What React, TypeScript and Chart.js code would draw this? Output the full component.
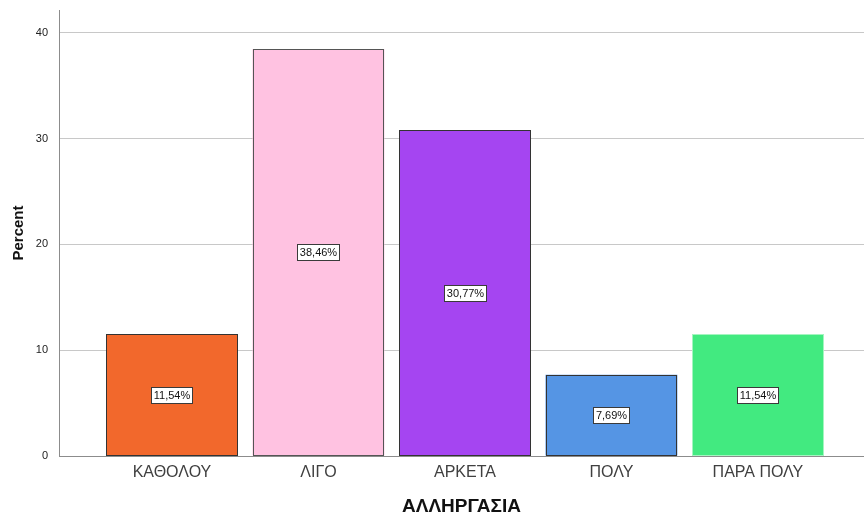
import React, { useEffect, useRef } from "react";
import { Chart, registerables } from "chart.js";

Chart.register(...registerables);

const categories = ["ΚΑΘΟΛΟΥ", "ΛΙΓΟ", "ΑΡΚΕΤΑ", "ΠΟΛΥ", "ΠΑΡΑ ΠΟΛΥ"];
const percents = [11.54, 38.46, 30.77, 7.69, 11.54];
const barColors = ["#F2682C", "#FFC2E1", "#A545F1", "#5595E4", "#42EA80"];
const barBorders = ["#333333", "#555555", "#333333", "#333333", "#a4f5c0"];
const yTicks = [0, 10, 20, 30, 40];

const FONT = "Arial, 'Liberation Sans', sans-serif";

const fmt = (v: number) => v.toFixed(2).replace(".", ",") + "%";

// Crisp pixel-aligned outlines around each bar
const barOutlines = {
  id: "barOutlines",
  afterDatasetsDraw(chart: any) {
    const ctx = chart.ctx;
    const meta = chart.getDatasetMeta(0);
    ctx.save();
    ctx.lineWidth = 1;
    meta.data.forEach((bar: any, i: number) => {
      const l = Math.round(bar.x - bar.width / 2);
      const r = Math.round(bar.x + bar.width / 2);
      const t = Math.round(bar.y);
      const b = Math.round(bar.base);
      ctx.strokeStyle = barBorders[i];
      ctx.strokeRect(l + 0.5, t + 0.5, r - l - 1, b - t - 1);
    });
    ctx.restore();
  },
};

// Boxed percentage label in the middle of each bar
const valueBoxes = {
  id: "valueBoxes",
  afterDatasetsDraw(chart: any) {
    const ctx = chart.ctx;
    const meta = chart.getDatasetMeta(0);
    ctx.save();
    ctx.font = `11px ${FONT}`;
    ctx.textAlign = "center";
    ctx.textBaseline = "middle";
    meta.data.forEach((bar: any, i: number) => {
      const text = fmt(percents[i]);
      const cx = bar.x;
      const cy = (bar.y + bar.base) / 2;
      const w = Math.round(ctx.measureText(text).width + 5);
      const h = 16;
      const x0 = Math.round(cx - w / 2) + 0.5;
      const y0 = Math.round(cy - h / 2) + 0.5;
      ctx.fillStyle = "#ffffff";
      ctx.fillRect(x0, y0, w, h);
      ctx.strokeStyle = "#3a3a3a";
      ctx.lineWidth = 1;
      ctx.strokeRect(x0, y0, w, h);
      ctx.fillStyle = "#111111";
      ctx.fillText(text, x0 + w / 2, y0 + h / 2 + 0.5);
    });
    ctx.restore();
  },
};

export default function App() {
  const ref = useRef<HTMLCanvasElement>(null);

  useEffect(() => {
    document.body.style.margin = "0";
    const canvas = ref.current!;
    const chart = new Chart(canvas, {
      type: "bar",
      data: {
        datasets: [
          {
            data: percents.map((v, i) => ({ x: i, y: v })),
            backgroundColor: barColors,
            borderWidth: 0,
            categoryPercentage: 1,
            barPercentage: 0.9,
          },
        ],
      },
      options: {
        animation: false,
        responsive: false,
        maintainAspectRatio: false,
        layout: { padding: { top: 10, left: 0, right: 0, bottom: 0 } },
        plugins: {
          legend: { display: false },
          tooltip: { enabled: false },
        },
        scales: {
          x: {
            type: "linear",
            offset: false,
            min: -0.771,
            max: 4.724,
            afterBuildTicks: (scale: any) => {
              scale.ticks = categories.map((_, i) => ({ value: i }));
            },
            afterFit: (scale: any) => {
              scale.height = 57;
              scale.paddingLeft = 0;
              scale.paddingRight = 0;
            },
            grid: { display: true, color: "rgba(0,0,0,0)", drawTicks: false },
            border: { display: true, color: "#8c8c8c", width: 1 },
            ticks: {
              autoSkip: false,
              maxRotation: 0,
              padding: 7,
              color: "#404040",
              font: { family: FONT, size: 16 },
              callback: (v: any) => categories[v] ?? "",
            },
            title: {
              display: true,
              text: "ΑΛΛΗΡΓΑΣΙΑ",
              color: "#111111",
              font: { family: FONT, size: 19, weight: "bold" },
              padding: { top: 0, bottom: -5 },
            },
          },
          y: {
            min: 0,
            max: 42.15,
            afterBuildTicks: (scale: any) => {
              scale.ticks = yTicks.map((v) => ({ value: v }));
            },
            afterFit: (scale: any) => {
              scale.width = 59;
              scale.paddingTop = 0;
              scale.paddingBottom = 0;
            },
            grid: { color: "#c8c8c8", drawTicks: false },
            border: { display: true, color: "#8c8c8c", width: 1 },
            ticks: {
              padding: 11,
              color: "#222222",
              font: { family: FONT, size: 11 },
            },
            title: {
              display: true,
              text: "Percent",
              color: "#111111",
              font: { family: FONT, size: 15, weight: "bold" },
              padding: { top: 10, bottom: 0 },
            },
          },
        },
      },
      plugins: [barOutlines, valueBoxes],
    } as any);
    return () => chart.destroy();
  }, []);

  return (
    <div style={{ width: 864, height: 513, background: "#fff" }}>
      <canvas ref={ref} width={864} height={513} style={{ display: "block" }} />
    </div>
  );
}
